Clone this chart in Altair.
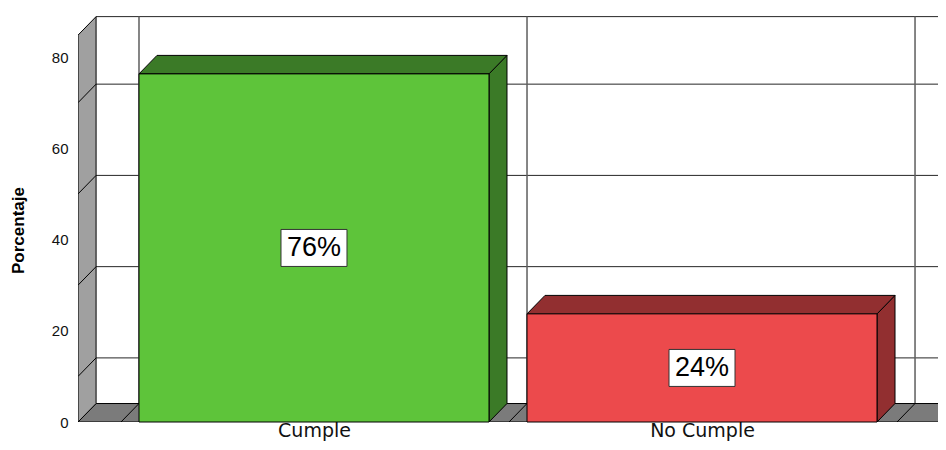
import json
import altair as alt
import pandas as pd

# ---- data ----
categories = ["Cumple", "No Cumple"]
percent = [76.3, 23.7]
bar_labels = ["76%", "24%"]
front_colors = ["#5ec43a", "#ec4a4c"]
dark_colors = ["#3b7a27", "#922f30"]
y_tick_values = [0, 20, 40, 60, 80]
grid_values = [10, 30, 50, 70]

# ---- 3D geometry (in scale units) ----
HALF = 0.451        # half bar width (category units)
DX = 0.0464         # depth offset along x
DY = 4.05           # depth offset along y (percent units)
WALL_X = -0.608     # front edge of the left wall
WALL_TOP = 84.8     # front top of the left wall
FLOOR_END = 1.613
X_DOMAIN = [-0.6082, 1.6082]
Y_DOMAIN = [0, 90.74]

xs = alt.Scale(domain=X_DOMAIN, nice=False, zero=False)
ys = alt.Scale(domain=Y_DOMAIN, nice=False, zero=False)

label_expr = json.dumps(categories) + "[datum.value]"
AXX = alt.Axis(
    values=list(range(len(categories))), labelExpr=label_expr, title=None,
    grid=False, domain=False, ticks=False, labelFont="DejaVu Sans", labelFontSize=19,
    labelColor="#111", labelPadding=14, labelBaseline="alphabetic")
AXY = alt.Axis(
    values=y_tick_values, title="Porcentaje", grid=False, domain=False, ticks=False,
    labelFont="Liberation Sans", labelFontSize=15, labelColor="#111", labelPadding=10,
    titleFont="Liberation Sans", titleFontSize=17, titleFontWeight="bold", titleColor="black",
    titleX=-60, titleY=222, titleAngle=270, titleAlign="center", titleBaseline="middle")


def X(field):
    return alt.X(field, scale=xs, axis=AXX)


def Y(field):
    return alt.Y(field, scale=ys, axis=AXY, stack=None)


dividers = [k - HALF for k in range(len(categories) + 1)]

# back wall horizontal gridlines + top edge
grid_df = pd.DataFrame({
    "x": [WALL_X + DX] * (len(grid_values) + 1),
    "x2": [X_DOMAIN[1] + 0.1] * (len(grid_values) + 1),
    "y": [v + DY for v in grid_values] + [WALL_TOP + DY],
})
grid = alt.Chart(grid_df).mark_rule(clip=True, color="#262626", strokeWidth=1).encode(
    x=X("x:Q"), x2="x2:Q", y=Y("y:Q")
)

div_df = pd.DataFrame({"x": dividers, "y": [DY] * len(dividers), "y2": [WALL_TOP + DY] * len(dividers)})
divs = alt.Chart(div_df).mark_rule(clip=True, color="#5e5e5e", strokeWidth=1.5).encode(
    x=X("x:Q"), y=Y("y:Q"), y2="y2:Q"
)

# floor and left wall
floor_df = pd.DataFrame([
    {"shape": "floor", "y": 0, "x": WALL_X, "x2": FLOOR_END, "fill": "#7b7b7b"},
    {"shape": "floor", "y": DY, "x": WALL_X + DX, "x2": FLOOR_END + DX, "fill": "#7b7b7b"},
])
wall_df = pd.DataFrame([
    {"shape": "wall", "x": WALL_X, "y": 0, "y2": WALL_TOP, "fill": "#a0a0a0"},
    {"shape": "wall", "x": WALL_X + DX, "y": DY, "y2": WALL_TOP + DY, "fill": "#a0a0a0"},
])

floor = alt.Chart(floor_df).mark_area(orient="horizontal", clip=True, stroke="black", strokeWidth=1).encode(
    y=Y("y:Q"), x=X("x:Q"), x2="x2:Q",
    fill=alt.Fill("fill:N", scale=None), detail="shape:N"
)
wall = alt.Chart(wall_df).mark_area(orient="vertical", clip=True, stroke="black", strokeWidth=1).encode(
    x=X("x:Q"), y=Y("y:Q"), y2="y2:Q",
    fill=alt.Fill("fill:N", scale=None), detail="shape:N"
)

diag_rows = [{"x": WALL_X, "x2": WALL_X + DX, "y": v, "y2": v + DY} for v in grid_values]
diag_rows += [{"x": d - DX, "x2": d, "y": 0, "y2": DY} for d in dividers]
diag = alt.Chart(pd.DataFrame(diag_rows)).mark_rule(clip=True, color="black", strokeWidth=1).encode(
    x=X("x:Q"), x2="x2:Q", y=Y("y:Q"), y2="y2:Q"
)

# bars
side_rows, top_rows, front_rows, lab_rows = [], [], [], []
for i, (c, v) in enumerate(zip(categories, percent)):
    L, R = i - HALF, i + HALF
    side_rows += [
        {"shape": c, "x": R, "y": 0, "y2": v, "fill": dark_colors[i]},
        {"shape": c, "x": R + DX, "y": DY, "y2": v + DY, "fill": dark_colors[i]},
    ]
    top_rows += [
        {"shape": c, "y": v, "x": L, "x2": R, "fill": dark_colors[i]},
        {"shape": c, "y": v + DY, "x": L + DX, "x2": R + DX, "fill": dark_colors[i]},
    ]
    front_rows.append({"x": L, "x2": R, "y": 0, "y2": v, "fill": front_colors[i]})
    lab_rows.append({"x": i, "y": v / 2, "label": bar_labels[i]})

sides = alt.Chart(pd.DataFrame(side_rows)).mark_area(orient="vertical", stroke="black", strokeWidth=1).encode(
    x=X("x:Q"), y=Y("y:Q"), y2="y2:Q",
    fill=alt.Fill("fill:N", scale=None), detail="shape:N"
)
tops = alt.Chart(pd.DataFrame(top_rows)).mark_area(orient="horizontal", stroke="black", strokeWidth=1).encode(
    y=Y("y:Q"), x=X("x:Q"), x2="x2:Q",
    fill=alt.Fill("fill:N", scale=None), detail="shape:N"
)
fronts = alt.Chart(pd.DataFrame(front_rows)).mark_rect(stroke="black", strokeWidth=1).encode(
    x=X("x:Q"), x2="x2:Q", y=Y("y:Q"), y2="y2:Q",
    fill=alt.Fill("fill:N", scale=None),
)

lab_df = pd.DataFrame(lab_rows)
boxes = alt.Chart(lab_df).mark_rect(width=66, height=37, fill="white", stroke="#333", strokeWidth=1).encode(
    x=X("x:Q"), y=Y("y:Q")
)
texts = alt.Chart(lab_df).mark_text(font="Liberation Sans", fontSize=27, color="black", baseline="middle").encode(
    x=X("x:Q"), y=Y("y:Q"), text="label:N"
)

chart = alt.layer(grid, divs, floor, wall, diag, sides, tops, fronts, boxes, texts).properties(
    width=860, height=414,
    padding={"left": 70, "top": 0, "right": 0, "bottom": 20},
    autosize=alt.AutoSizeParams(type="none"),
    background="white",
).configure_view(stroke=None)

chart.save("out.html", embed_options={"renderer": "svg", "actions": False})
